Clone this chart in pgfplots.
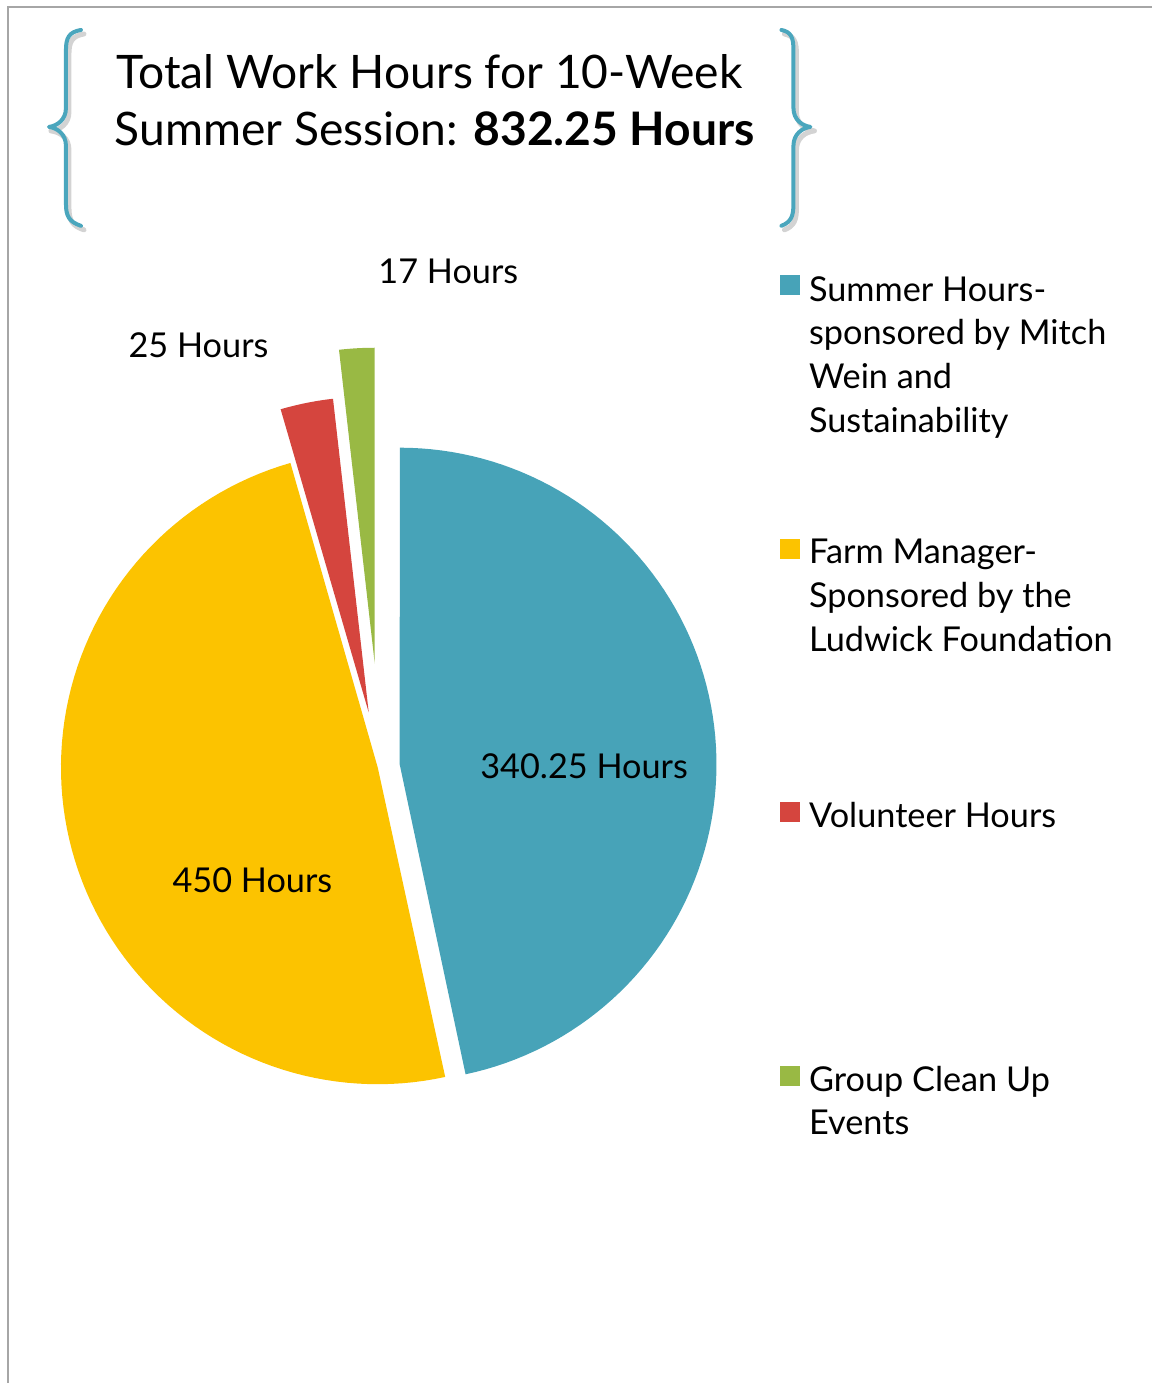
\documentclass[border=0pt]{standalone}
\usepackage{pgfplots}
\pgfplotsset{compat=1.18}
\usepackage{fontspec}
\setmainfont{Lato}
\definecolor{cBlue}{HTML}{47A3B8}
\definecolor{cYellow}{HTML}{FCC300}
\definecolor{cRed}{HTML}{D5453E}
\definecolor{cGreen}{HTML}{99B944}
\definecolor{cBrace}{HTML}{4AA6BD}
\definecolor{cBorder}{HTML}{A6A6A6}
\newcommand{\legfont}{\fontsize{9.75}{12}\selectfont}
\newcommand{\titfont}{\fontsize{13.15}{16}\selectfont}
\begin{document}
\begin{tikzpicture}
\begin{axis}[x=0.1mm, y=0.1mm, xmin=0, xmax=1153, ymin=0, ymax=1384,
  y dir=reverse, hide axis, clip=false]
\path (axis cs:0,0) rectangle (axis cs:1153,1384);
% border
\draw[cBorder, line width=0.2mm] (axis cs:8,1384) -- (axis cs:8,7) -- (axis cs:1153,7);
% braces shadow
\begin{scope}[gray, opacity=0.35, line width=0.5mm, line cap=round, line join=round]
\draw (axis cs:84,34) .. controls (axis cs:72,36) and (axis cs:69,42) .. (axis cs:69,54) -- (axis cs:69,112)
   .. controls (axis cs:69,124) and (axis cs:60,130) .. (axis cs:51,131)
   .. controls (axis cs:60,132) and (axis cs:69,138) .. (axis cs:69,150) -- (axis cs:69,208)
   .. controls (axis cs:69,220) and (axis cs:72,226) .. (axis cs:84,230);
\draw (axis cs:785,34) .. controls (axis cs:795,36) and (axis cs:797,42) .. (axis cs:797,54) -- (axis cs:797,112)
   .. controls (axis cs:797,124) and (axis cs:806,130) .. (axis cs:815,131)
   .. controls (axis cs:806,132) and (axis cs:797,138) .. (axis cs:797,150) -- (axis cs:797,208)
   .. controls (axis cs:797,220) and (axis cs:795,226) .. (axis cs:785,230);
\end{scope}
\begin{scope}[cBrace, line width=0.4mm, line cap=round, line join=round]
\draw (axis cs:81,30) .. controls (axis cs:69,32) and (axis cs:66,38) .. (axis cs:66,50) -- (axis cs:66,108)
   .. controls (axis cs:66,120) and (axis cs:57,126) .. (axis cs:49,127)
   .. controls (axis cs:57,128) and (axis cs:66,134) .. (axis cs:66,146) -- (axis cs:66,204)
   .. controls (axis cs:66,216) and (axis cs:69,222) .. (axis cs:81,226);
\draw (axis cs:782,30) .. controls (axis cs:792,32) and (axis cs:794,38) .. (axis cs:794,50) -- (axis cs:794,108)
   .. controls (axis cs:794,120) and (axis cs:803,126) .. (axis cs:811,127)
   .. controls (axis cs:803,128) and (axis cs:794,134) .. (axis cs:794,146) -- (axis cs:794,204)
   .. controls (axis cs:794,216) and (axis cs:792,222) .. (axis cs:782,226);
\end{scope}
% title
\node[anchor=base west, inner sep=0] at (axis cs:116,89) {\titfont Total Work Hours for 10-Week};
\node[anchor=base west, inner sep=0] at (axis cs:114,146) {\titfont Summer Session: \textbf{832.25 Hours}};
% pie slices (value in hours; sweep angles as drawn)
% Summer 340.25 : -78 .. 90, centre (400,765)
\addplot[fill=cBlue, draw=none, domain=-78:90, samples=90, variable=\t]
  ({400+317*cos(\t)},{765-317*sin(\t)}) -- (axis cs:400,765) -- cycle;
% Farm 450 : 106 .. 282, centre (378,768)
\addplot[fill=cYellow, draw=none, domain=106:282.3, samples=90, variable=\t]
  ({378+317*cos(\t)},{768-317*sin(\t)}) -- (axis cs:378,768) -- cycle;
% Volunteer 25 : 96.5 .. 106, centre (369,713)
\addplot[fill=cRed, draw=none, domain=96.5:106.2, samples=20, variable=\t]
  ({369+316*cos(\t)},{713-316*sin(\t)}) -- (axis cs:369,713) -- cycle;
% Group clean up 17 : 90 .. 96.5, centre (375,664)
\addplot[fill=cGreen, draw=none, domain=90:96.5, samples=20, variable=\t]
  ({375+316*cos(\t)},{664-316*sin(\t)}) -- (axis cs:375,664) -- cycle;
% data labels
\node[anchor=base west, inner sep=0] at (axis cs:480,779) {\legfont 340.25 Hours};
\node[anchor=base west, inner sep=0] at (axis cs:172,893) {\legfont 450 Hours};
\node[anchor=base west, inner sep=0] at (axis cs:128,358) {\legfont 25 Hours};
\node[anchor=base west, inner sep=0] at (axis cs:378,284) {\legfont 17 Hours};
% legend
\fill[cBlue] (axis cs:781,275) rectangle (axis cs:801,295);
\fill[cYellow] (axis cs:781,539) rectangle (axis cs:801,559);
\fill[cRed] (axis cs:781,803) rectangle (axis cs:801,823);
\fill[cGreen] (axis cs:781,1067) rectangle (axis cs:801,1087);
\node[anchor=base west, inner sep=0] at (axis cs:809,302) {\legfont Summer Hours-};
\node[anchor=base west, inner sep=0] at (axis cs:809,345) {\legfont sponsored by Mitch};
\node[anchor=base west, inner sep=0] at (axis cs:809,389) {\legfont Wein and};
\node[anchor=base west, inner sep=0] at (axis cs:809,433) {\legfont Sustainability};
\node[anchor=base west, inner sep=0] at (axis cs:809,564) {\legfont Farm Manager-};
\node[anchor=base west, inner sep=0] at (axis cs:809,608) {\legfont Sponsored by the};
\node[anchor=base west, inner sep=0] at (axis cs:809,652) {\legfont Ludwick Foundation};
\node[anchor=base west, inner sep=0] at (axis cs:809,828) {\legfont Volunteer Hours};
\node[anchor=base west, inner sep=0] at (axis cs:809,1092) {\legfont Group Clean Up};
\node[anchor=base west, inner sep=0] at (axis cs:809,1135) {\legfont Events};
\end{axis}
\end{tikzpicture}
\end{document}
